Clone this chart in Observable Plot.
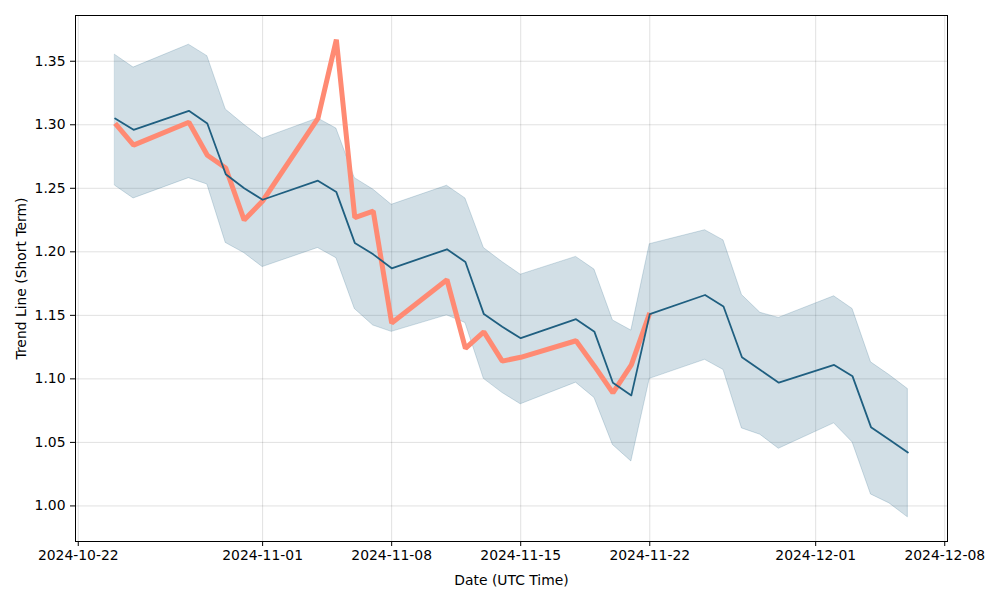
<!DOCTYPE html>
<html>
<head>
<meta charset="utf-8">
<script src="https://cdn.jsdelivr.net/npm/d3@7"></script>
<script src="https://cdn.jsdelivr.net/npm/@observablehq/plot@0.6"></script>
<style>
  html, body { margin: 0; padding: 0; background: #fff; }
  #chart { width: 1000px; height: 600px; }
  svg { font-family: "DejaVu Sans", sans-serif; }
</style>
</head>
<body>
<div id="chart"></div>
<script>
const dates = ["2024-10-24","2024-10-25","2024-10-28","2024-10-29","2024-10-30","2024-10-31","2024-11-01",
  "2024-11-04","2024-11-05","2024-11-06","2024-11-07","2024-11-08",
  "2024-11-11","2024-11-12","2024-11-13","2024-11-14","2024-11-15",
  "2024-11-18","2024-11-19","2024-11-20","2024-11-21","2024-11-22",
  "2024-11-25","2024-11-26","2024-11-27","2024-11-28","2024-11-29",
  "2024-12-02","2024-12-03","2024-12-04","2024-12-05","2024-12-06"];
const trend = [1.305,1.296,1.311,1.301,1.261,1.250,1.241,
  1.256,1.247,1.207,1.198,1.187,
  1.202,1.192,1.151,1.141,1.132,
  1.147,1.137,1.097,1.087,1.151,
  1.166,1.157,1.117,1.107,1.097,
  1.111,1.102,1.062,1.052,1.042];
const upper = [1.355,1.345,1.363,1.354,1.312,1.300,1.289,
  1.305,1.297,1.258,1.249,1.237,
  1.252,1.242,1.203,1.192,1.182,
  1.196,1.186,1.146,1.138,1.206,
  1.217,1.209,1.166,1.152,1.148,
  1.165,1.155,1.113,1.103,1.092];
const lower = [1.252,1.242,1.258,1.253,1.207,1.199,1.188,
  1.203,1.195,1.155,1.142,1.137,
  1.150,1.144,1.100,1.089,1.080,
  1.097,1.085,1.048,1.035,1.100,
  1.115,1.107,1.061,1.056,1.045,
  1.065,1.050,1.009,1.002,0.991];
const closeVals = [1.301,1.284,1.302,1.276,1.266,1.225,1.240,
  1.305,1.367,1.227,1.232,1.144,
  1.178,1.124,1.137,1.114,1.117,
  1.130,1.110,1.089,1.111,1.152];
const xTickLabels = ["2024-10-22","2024-11-01","2024-11-08","2024-11-15","2024-11-22","2024-12-01","2024-12-08"];
const yTickLabels = [1.00,1.05,1.10,1.15,1.20,1.25,1.30,1.35];

const parse = d3.utcParse("%Y-%m-%d");
const band = dates.map((d, i) => ({date: parse(d), trend: trend[i], upper: upper[i], lower: lower[i]}));
const actual = closeVals.map((v, i) => ({date: parse(dates[i]), value: v}));
const xTicks = xTickLabels.map(parse);

const x0 = parse(dates[0]).getTime(), x1 = parse(dates[dates.length - 1]).getTime();
const padX = (x1 - x0) * 0.05;

const chart = Plot.plot({
  width: 1000,
  height: 600,
  marginLeft: 75,
  marginRight: 53,
  marginTop: 15,
  marginBottom: 59,
  style: {fontFamily: "DejaVu Sans, sans-serif", fontSize: "13.9px", color: "#000", background: "#fff"},
  x: {type: "utc", domain: [new Date(x0 - padX), new Date(x1 + padX)]},
  y: {domain: [0.972, 1.386]},
  marks: [
    Plot.gridX(xTicks, {stroke: "#000", strokeOpacity: 0.12, strokeWidth: 1}),
    Plot.gridY(yTickLabels, {stroke: "#000", strokeOpacity: 0.12, strokeWidth: 1}),
    Plot.areaY(band, {x: "date", y1: "lower", y2: "upper", fill: "#1f5f80", fillOpacity: 0.2, stroke: "#1f5f80", strokeOpacity: 0.2, strokeWidth: 1}),
    Plot.lineY(actual, {x: "date", y: "value", stroke: "#ff8a73", strokeWidth: 5, strokeLinejoin: "miter", strokeLinecap: "butt"}),
    Plot.lineY(band, {x: "date", y: "trend", stroke: "#1f5f80", strokeWidth: 1.8}),
    Plot.frame({stroke: "#000", strokeWidth: 1}),
    Plot.axisX(xTicks, {tickFormat: d3.utcFormat("%Y-%m-%d"), tickSize: 5, tickPadding: 4, label: "Date (UTC Time)", labelAnchor: "center", labelArrow: "none", labelOffset: 43, fontSize: "13.9px"}),
    Plot.axisY(yTickLabels, {tickFormat: d3.format(".2f"), tickSize: 5, tickPadding: 5, label: "Trend Line (Short Term)", labelAnchor: "center", labelArrow: "none", labelOffset: 59, fontSize: "13.9px"})
  ]
});
document.getElementById("chart").appendChild(chart);
</script>
</body>
</html>
